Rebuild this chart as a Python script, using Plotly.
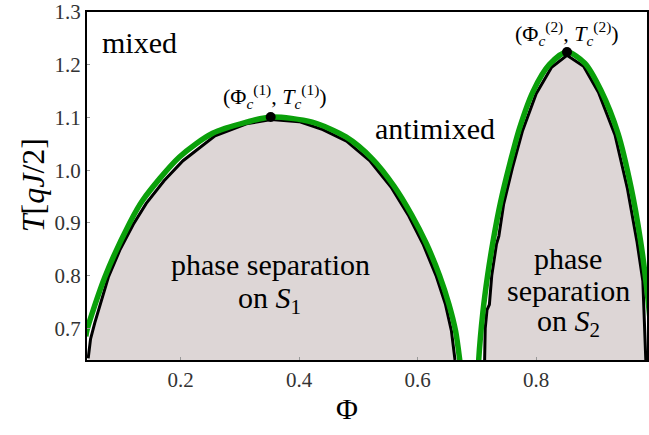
import plotly.graph_objects as go

# ---- data ----
green1_phi = [0.040, 0.042, 0.072, 0.114, 0.136, 0.198, 0.254, 0.311, 0.353, 0.422, 0.479, 0.523, 0.560, 0.590, 0.615, 0.637, 0.653, 0.664, 0.671, 0.674]
green1_T   = [0.685, 0.697, 0.797, 0.900, 0.943, 1.025, 1.070, 1.091, 1.101, 1.091, 1.063, 1.022, 0.970, 0.915, 0.860, 0.800, 0.745, 0.695, 0.640, 0.610]

black1_phi = [0.044, 0.048, 0.055, 0.078, 0.098, 0.120, 0.142, 0.172, 0.204, 0.258, 0.311, 0.353, 0.400, 0.440, 0.480, 0.520, 0.555, 0.585, 0.609, 0.631, 0.647, 0.657, 0.663]
black1_T   = [0.643, 0.680, 0.710, 0.797, 0.850, 0.897, 0.937, 0.980, 1.018, 1.065, 1.088, 1.096, 1.092, 1.077, 1.055, 1.017, 0.968, 0.913, 0.860, 0.800, 0.745, 0.695, 0.640]

green2_phi = [0.702, 0.703, 0.710, 0.718, 0.728, 0.740, 0.755, 0.772, 0.795, 0.822, 0.852, 0.882, 0.909, 0.938, 0.960, 0.976, 0.987, 0.997]
green2_T   = [0.610, 0.640, 0.730, 0.800, 0.870, 0.940, 1.010, 1.080, 1.150, 1.200, 1.224, 1.203, 1.152, 1.070, 0.968, 0.867, 0.772, 0.660]

black2_phi = [0.713, 0.714, 0.717, 0.721, 0.725, 0.733, 0.737, 0.745, 0.760, 0.777, 0.800, 0.826, 0.852, 0.880, 0.905, 0.933, 0.954, 0.970, 0.980, 0.985]
black2_T   = [0.640, 0.700, 0.735, 0.745, 0.800, 0.860, 0.875, 0.935, 1.005, 1.075, 1.145, 1.195, 1.218, 1.197, 1.148, 1.067, 0.965, 0.865, 0.790, 0.640]

crit_phi = [0.352, 0.852]
crit_T = [1.101, 1.224]
crit_labels = ["(Φ<sub><i>c</i></sub><sup>(1)</sup>, <i>T</i><sub><i>c</i></sub><sup>(1)</sup>)",
               "(Φ<sub><i>c</i></sub><sup>(2)</sup>, <i>T</i><sub><i>c</i></sub><sup>(2)</sup>)"]
crit_label_phi = [0.360, 0.852]
crit_label_T = [1.139, 1.260]

region_labels = ["mixed", "antimixed", "phase separation", "on <i>S</i><sub>1</sub>",
                 "phase", "separation", "on <i>S</i><sub>2</sub>"]
region_phi = [0.130, 0.629, 0.351, 0.350, 0.854, 0.854, 0.854]
region_T = [1.243, 1.080, 0.822, 0.754, 0.833, 0.772, 0.710]

x_ticks = [0.2, 0.4, 0.6, 0.8]
y_ticks = [0.7, 0.8, 0.9, 1.0, 1.1, 1.2, 1.3]

FILL = "rgb(221,214,214)"
GREEN = "rgb(10,160,10)"
FONT = "Liberation Serif, DejaVu Serif, serif"

fig = go.Figure()
for bp, bt in [(black1_phi, black1_T), (black2_phi, black2_T)]:
    fig.add_trace(go.Scatter(x=bp, y=bt, mode="lines", fill="tozeroy", fillcolor=FILL,
                             line=dict(color="black", width=3), hoverinfo="skip"))
for gp, gt in [(green1_phi, green1_T), (green2_phi, green2_T)]:
    fig.add_trace(go.Scatter(x=gp, y=gt, mode="lines",
                             line=dict(color=GREEN, width=5.5, shape="spline", smoothing=0.8),
                             hoverinfo="skip"))
fig.add_trace(go.Scatter(x=crit_phi, y=crit_T, mode="markers",
                         marker=dict(color="black", size=10), hoverinfo="skip"))

for txt, p, t in zip(crit_labels, crit_label_phi, crit_label_T):
    fig.add_annotation(x=p, y=t, text=txt, showarrow=False, xref="x", yref="y",
                       font=dict(family=FONT, size=22, color="black"))
for txt, p, t in zip(region_labels, region_phi, region_T):
    fig.add_annotation(x=p, y=t, text=txt, showarrow=False, xref="x", yref="y",
                       font=dict(family=FONT, size=30, color="black"), align="center")

fig.add_annotation(x=-0.096, y=0.503, xref="paper", yref="paper", text="<i>T</i>[<i>qJ</i>/2]",
                   textangle=-90, showarrow=False, xanchor="center", yanchor="middle",
                   font=dict(family=FONT, size=32, color="black"))
fig.add_annotation(x=0.464, y=-0.138, xref="paper", yref="paper", text="Φ",
                   showarrow=False, xanchor="center", yanchor="middle",
                   font=dict(family=FONT, size=30, color="black"))

axis_common = dict(showgrid=False, zeroline=False, showline=True, mirror=True, linecolor="black",
                   linewidth=2, ticks="inside", ticklen=3, tickcolor="#999",
                   tickfont=dict(family=FONT, size=21, color="#333"))
fig.update_layout(
    width=649, height=435, showlegend=False,
    margin=dict(l=87, r=0, t=12, b=75),
    plot_bgcolor="white", paper_bgcolor="white",
    xaxis=dict(range=[0.042, 0.987], tickvals=x_ticks, ticktext=[f"{v:.1f}" for v in x_ticks],
               **axis_common),
    yaxis=dict(range=[0.640, 1.300], tickvals=y_ticks, ticktext=[f"{v:.1f}" for v in y_ticks],
               **axis_common),
)

fig.write_html("out.html", config={"displayModeBar": False},
               post_script="document.body.style.margin='0';document.body.style.overflow='hidden';")
